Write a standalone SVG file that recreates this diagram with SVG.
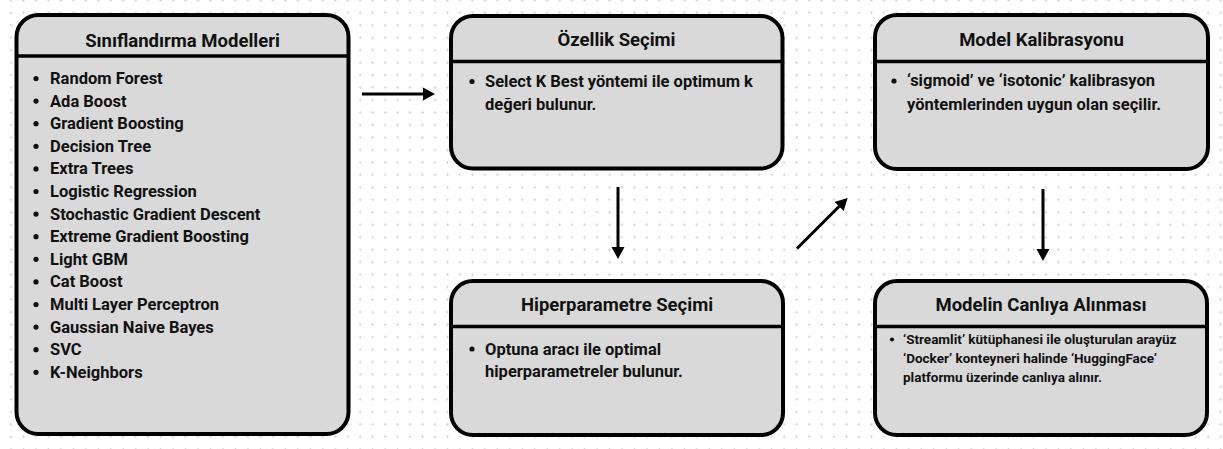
<svg xmlns="http://www.w3.org/2000/svg" width="1223" height="449" viewBox="0 0 1223 449">
<style>
.box{fill:#d9d9d9;stroke:#000;stroke-width:4}
.hdr{stroke:#000;stroke-width:3.5}
.t{font-family:Roboto,"Liberation Sans",sans-serif;font-weight:700;fill:#111}
.ttl{font-size:18.5px;text-anchor:middle}
.li{font-size:16.5px}
.sm{font-size:13.5px}
.b{fill:#111}
.c{stroke:#000;stroke-width:3;fill:none;marker-end:url(#ah)}
</style>
<defs>
<pattern id="grid" patternUnits="userSpaceOnUse" x="4.765" y="-5.935" width="12.47" height="12.47">
<path d="M4.9,6.235h2.7M6.235,4.9v2.7" stroke="#d6d6d6" stroke-width="1"/>
</pattern>
<marker id="ah" markerUnits="userSpaceOnUse" markerWidth="14" markerHeight="14" refX="2" refY="6.5" orient="auto">
<path d="M0,0 L12,6.5 L0,13 Z" fill="#000"/>
</marker>
</defs>
<rect width="1223" height="449" fill="#fff"/>
<rect width="1223" height="449" fill="url(#grid)"/>

<g id="connectors">
<line class="c" x1="362" y1="94" x2="425" y2="94"/>
<line class="c" x1="618" y1="187" x2="618" y2="249"/>
<line class="c" x1="797" y1="248.5" x2="840.5" y2="205"/>
<line class="c" x1="1043" y1="189" x2="1043" y2="251"/>
</g>

<g id="node-siniflandirma">
<rect class="box" x="16.5" y="15" width="332" height="419" rx="22"/>
<line class="hdr" x1="16.5" y1="56" x2="348.5" y2="56"/>
<text class="t ttl" x="182.5" y="47">Sınıflandırma Modelleri</text>
<g class="b">
<circle cx="36" cy="78.5" r="2.6"/><circle cx="36" cy="101.1" r="2.6"/><circle cx="36" cy="123.7" r="2.6"/><circle cx="36" cy="146.3" r="2.6"/><circle cx="36" cy="168.9" r="2.6"/><circle cx="36" cy="191.5" r="2.6"/><circle cx="36" cy="214.1" r="2.6"/><circle cx="36" cy="236.7" r="2.6"/><circle cx="36" cy="259.3" r="2.6"/><circle cx="36" cy="281.9" r="2.6"/><circle cx="36" cy="304.5" r="2.6"/><circle cx="36" cy="327.1" r="2.6"/><circle cx="36" cy="349.7" r="2.6"/><circle cx="36" cy="372.3" r="2.6"/>
</g>
<text class="t li" x="50" y="84">Random Forest</text>
<text class="t li" x="50" y="106.6">Ada Boost</text>
<text class="t li" x="50" y="129.2">Gradient Boosting</text>
<text class="t li" x="50" y="151.8">Decision Tree</text>
<text class="t li" x="50" y="174.4">Extra Trees</text>
<text class="t li" x="50" y="197">Logistic Regression</text>
<text class="t li" x="50" y="219.6">Stochastic Gradient Descent</text>
<text class="t li" x="50" y="242.2">Extreme Gradient Boosting</text>
<text class="t li" x="50" y="264.8">Light GBM</text>
<text class="t li" x="50" y="287.4">Cat Boost</text>
<text class="t li" x="50" y="310">Multi Layer Perceptron</text>
<text class="t li" x="50" y="332.6">Gaussian Naive Bayes</text>
<text class="t li" x="50" y="355.2">SVC</text>
<text class="t li" x="50" y="377.8">K-Neighbors</text>
</g>

<g id="node-ozellik">
<rect class="box" x="451" y="16" width="331.5" height="152.5" rx="22"/>
<line class="hdr" x1="451" y1="61.5" x2="782.5" y2="61.5"/>
<text class="t ttl" x="616.5" y="46">Özellik Seçimi</text>
<circle class="b" cx="472" cy="81.5" r="2.6"/>
<text class="t li" x="485" y="87">Select K Best yöntemi ile optimum k</text>
<text class="t li" x="485" y="110">değeri bulunur.</text>
</g>

<g id="node-kalibrasyon">
<rect class="box" x="875" y="15" width="333" height="154" rx="22"/>
<line class="hdr" x1="875" y1="61.5" x2="1208" y2="61.5"/>
<text class="t ttl" x="1041.5" y="46">Model Kalibrasyonu</text>
<circle class="b" cx="894" cy="81" r="2.6"/>
<text class="t li" x="907" y="86">‘sigmoid’ ve ‘isotonic’ kalibrasyon</text>
<text class="t li" x="907" y="109.5">yöntemlerinden uygun olan seçilir.</text>
</g>

<g id="node-hiperparametre">
<rect class="box" x="451" y="281" width="332" height="154" rx="22"/>
<line class="hdr" x1="451" y1="326.5" x2="783" y2="326.5"/>
<text class="t ttl" x="617" y="311">Hiperparametre Seçimi</text>
<circle class="b" cx="472" cy="349" r="2.6"/>
<text class="t li" x="485" y="354.5">Optuna aracı ile optimal</text>
<text class="t li" x="485" y="376.5">hiperparametreler bulunur.</text>
</g>

<g id="node-canliya">
<rect class="box" x="875" y="281" width="332" height="154" rx="22"/>
<line class="hdr" x1="875" y1="326.5" x2="1207" y2="326.5"/>
<text class="t ttl" x="1041" y="311">Modelin Canlıya Alınması</text>
<circle class="b" cx="892" cy="339.5" r="2.1"/>
<text class="t sm" x="903" y="344">‘Streamlit’ kütüphanesi ile oluşturulan arayüz</text>
<text class="t sm" x="903" y="363">‘Docker’ konteyneri halinde ‘HuggingFace’</text>
<text class="t sm" x="903" y="381.5">platformu üzerinde canlıya alınır.</text>
</g>
</svg>
